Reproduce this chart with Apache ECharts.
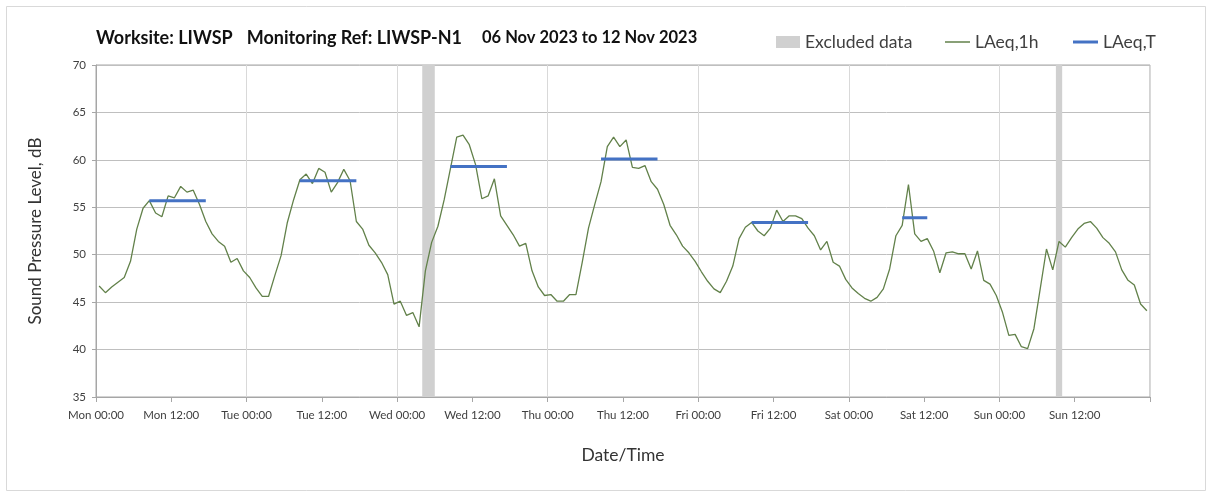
<!DOCTYPE html>
<html>
<head>
<meta charset="utf-8">
<script src="https://cdn.jsdelivr.net/npm/echarts@6/dist/echarts.min.js"></script>
<style>
html,body{margin:0;padding:0;background:#fff;}
#c{width:1208px;height:492px;}
</style>
</head>
<body>
<div id="c"></div>
<script>
// ---- data ----
const tickLabels = ['Mon 00:00','Mon 12:00','Tue 00:00','Tue 12:00','Wed 00:00','Wed 12:00','Thu 00:00','Thu 12:00','Fri 00:00','Fri 12:00','Sat 00:00','Sat 12:00','Sun 00:00','Sun 12:00'];

// hourly LAeq,1h, Mon 00:00 .. Sun 23:00
const laeq1hMon = [46.7,46.0,46.6,47.1,47.6,49.3,52.7,54.9,55.7,54.4,54.0,56.2,56.0,57.2,56.6,56.8,55.3,53.5,52.2,51.4,50.9,49.2,49.6,48.3];
const laeq1hTue = [47.6,46.5,45.6,45.6,47.8,49.9,53.4,55.8,57.9,58.5,57.5,59.1,58.7,56.6,57.6,59.0,57.8,53.5,52.7,51.0,50.2,49.2,47.9,44.8];
const laeq1hWed = [45.1,43.6,43.9,42.4,48.3,51.3,53.0,55.8,59.1,62.4,62.6,61.6,59.5,55.9,56.2,58.0,54.1,53.1,52.1,50.9,51.2,48.3,46.6,45.7];
const laeq1hThu = [45.8,45.1,45.1,45.8,45.8,49.2,52.8,55.3,57.7,61.4,62.4,61.4,62.1,59.2,59.1,59.4,57.7,56.9,55.3,53.1,52.1,50.9,50.2,49.3];
const laeq1hFri = [48.2,47.2,46.4,46.0,47.2,48.8,51.7,52.9,53.4,52.5,52.0,52.8,54.7,53.5,54.1,54.1,53.8,52.8,52.0,50.5,51.4,49.2,48.8,47.4];
const laeq1hSat = [46.5,45.9,45.4,45.1,45.5,46.4,48.5,52.0,53.1,57.4,52.2,51.4,51.7,50.4,48.1,50.2,50.3,50.1,50.1,48.5,50.4,47.3,46.9,45.7];
const laeq1hSun = [43.9,41.5,41.6,40.3,40.1,42.2,46.4,50.6,48.4,51.4,50.8,51.8,52.7,53.3,53.5,52.8,51.8,51.2,50.3,48.4,47.3,46.8,44.8,44.1];

// LAeq,T daytime periods (hour index from Mon 00:00, inclusive)
const laeqTStart = [8, 32, 56, 80, 104, 128];
const laeqTEnd   = [17, 41, 65, 89, 113, 132];
const laeqTValue = [55.7, 57.8, 59.3, 60.1, 53.4, 53.9];

// excluded data periods (hour index from Mon 00:00)
const excludedStart = [52, 153];
const excludedEnd   = [54, 154];

// ---- build ----
const laeq1h = [].concat(laeq1hMon, laeq1hTue, laeq1hWed, laeq1hThu, laeq1hFri, laeq1hSat, laeq1hSun);
const lineData = laeq1h.map((v, h) => [h + 0.5, v]);

const FONT = 'Lato';
const GREEN = '#62814a';
const BLUE = '#4472c4';
const GREY = '#d0d0d0';
const Y_MIN = 35, Y_MAX = 70;

const series = [];
series.push({
  name: 'Excluded data',
  type: 'custom',
  z: 1,
  data: excludedStart.map((s, i) => [s, excludedEnd[i]]),
  encode: { x: [0, 1] },
  renderItem: function (params, api) {
    const p1 = api.coord([api.value(0), Y_MAX]);
    const p2 = api.coord([api.value(1), Y_MIN]);
    return { type: 'rect', shape: { x: p1[0], y: p1[1], width: p2[0] - p1[0], height: p2[1] - p1[1] }, style: { fill: GREY } };
  },
  itemStyle: { color: GREY },
  silent: true
});
series.push({
  name: 'LAeq,1h',
  type: 'line',
  z: 3,
  data: lineData,
  showSymbol: false,
  symbol: 'none',
  lineStyle: { color: GREEN, width: 1.3 },
  itemStyle: { color: GREEN },
  silent: true
});
laeqTStart.forEach((s, i) => {
  const d = [];
  for (let h = s; h <= laeqTEnd[i]; h++) d.push([h + 0.5, laeqTValue[i]]);
  series.push({
    name: 'LAeq,T',
    type: 'line',
    z: 4,
    data: d,
    showSymbol: false,
    symbol: 'none',
    lineStyle: { color: BLUE, width: 3 },
    itemStyle: { color: BLUE },
    silent: true
  });
});

const legendText = { fontFamily: FONT, fontSize: 17.5, color: '#404040' };
function legendFor(name, left, w, h, color) {
  return {
    left: left, top: 28, itemWidth: w, itemHeight: h, itemGap: 0,
    textStyle: legendText, selectedMode: false,
    data: [{ name: name, icon: 'rect', itemStyle: { color: color } }]
  };
}

const chart = echarts.init(document.getElementById('c'), null, { renderer: 'canvas' });
chart.setOption({
  animation: false,
  backgroundColor: '#fff',
  textStyle: { fontFamily: FONT },
  graphic: [{
    type: 'rect', left: 4, top: 4, shape: { width: 1199, height: 484 },
    style: { fill: 'none', stroke: '#d9d9d9', lineWidth: 1 }, silent: true, z: -10
  }],
  title: {
    text: '{a|Worksite: LIWSP}{s1|}{a|Monitoring Ref: LIWSP-N1}{s2|}{b|06 Nov 2023 to 12 Nov 2023}',
    left: 91, top: 24,
    textStyle: {
      rich: {
        a: { fontFamily: FONT, fontSize: 18, fontWeight: 'bold', color: '#111' },
        b: { fontFamily: FONT, fontSize: 16.5, fontWeight: 'bold', color: '#111' },
        s1: { width: 14 },
        s2: { width: 20 }
      }
    }
  },
  legend: [
    legendFor('Excluded data', 771, 24, 12, GREY),
    legendFor('LAeq,1h', 940, 25, 1.5, GREEN),
    legendFor('LAeq,T', 1068, 25, 3, BLUE)
  ],
  grid: { left: 96, right: 58, top: 65, bottom: 95, show: true, borderColor: '#a6a6a6', borderWidth: 1 },
  xAxis: [{
    type: 'value', min: 0, max: 168, interval: 12,
    name: 'Date/Time', nameLocation: 'middle', nameGap: 49,
    nameTextStyle: { fontFamily: FONT, fontSize: 17.5, color: '#333' },
    axisLine: { show: true, lineStyle: { color: '#a6a6a6' } },
    axisTick: { show: true, inside: false, length: 5, lineStyle: { color: '#a6a6a6' } },
    axisLabel: {
      fontFamily: FONT, fontSize: 11.5, color: '#404040', margin: 12,
      formatter: function (v) { return tickLabels[Math.round(v / 12)] || ''; }
    },
    splitLine: { show: false }
  }, {
    type: 'value', min: 0, max: 168, interval: 24, position: 'bottom',
    axisLine: { show: false }, axisTick: { show: false }, axisLabel: { show: false },
    splitLine: { show: true, lineStyle: { color: '#d9d9d9', width: 1 } }
  }],
  yAxis: {
    type: 'value', min: Y_MIN, max: Y_MAX, interval: 5,
    name: 'Sound Pressure Level, dB', nameLocation: 'middle', nameGap: 52,
    nameTextStyle: { fontFamily: FONT, fontSize: 17, color: '#333' },
    axisLine: { show: true, lineStyle: { color: '#a6a6a6' } },
    axisTick: { show: true, length: 4, lineStyle: { color: '#a6a6a6' } },
    axisLabel: { fontFamily: FONT, fontSize: 11.5, color: '#404040', margin: 10 },
    splitLine: { show: true, lineStyle: { color: '#bfbfbf', width: 1 } }
  },
  series: series
});
</script>
</body>
</html>
